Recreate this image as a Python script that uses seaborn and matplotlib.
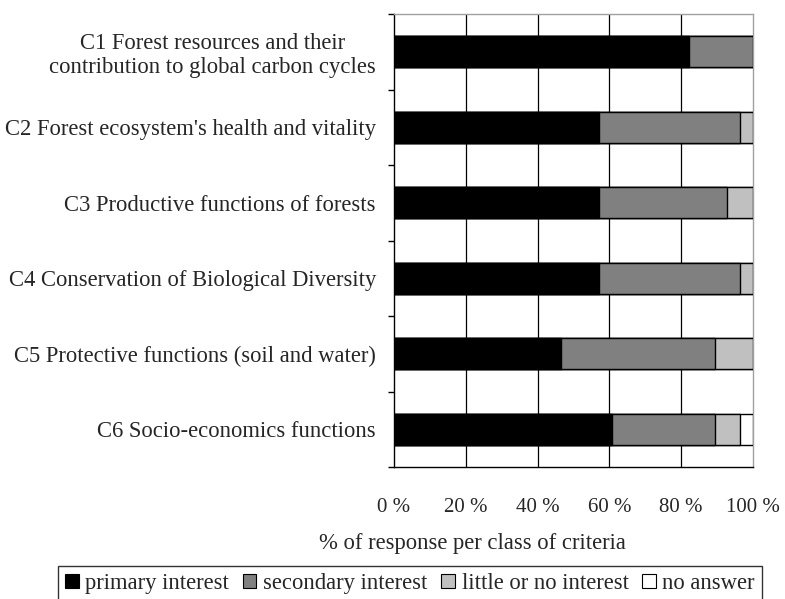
"""
Stacked horizontal bar chart - interest per class of criteria
Saves out.png
"""
import matplotlib
matplotlib.use("Agg")
import matplotlib.pyplot as plt
import pandas as pd
import seaborn as sns
from matplotlib.patches import Patch
from matplotlib.ticker import FixedLocator

# Data (percent of responses)
criteria = [
    "C1 Forest resources and their\ncontribution to global carbon cycles",
    "C2 Forest ecosystem's health and vitality",
    "C3 Productive functions of forests",
    "C4 Conservation of Biological Diversity",
    "C5 Protective functions (soil and water)",
    "C6 Socio-economics functions",
]
primary = [82.1, 57.1, 57.1, 57.1, 46.4, 60.7]
secondary = [17.9, 39.3, 35.7, 39.3, 42.9, 28.6]
little = [0.0, 3.6, 7.2, 3.6, 10.7, 7.1]
no_answer = [0.0, 0.0, 0.0, 0.0, 0.0, 3.6]

series_names = ["primary interest", "secondary interest", "little or no interest", "no answer"]
series_colors = ["#000000", "#808080", "#c0c0c0", "#ffffff"]
x_ticks = [0, 20, 40, 60, 80, 100]

sns.set_style("white")
plt.rcParams["font.family"] = ["Liberation Serif", "DejaVu Serif"]
plt.rcParams["font.size"] = 16.3

df = pd.DataFrame({
    "criteria": criteria,
    "primary": primary,
    "secondary": secondary,
    "little": little,
    "no_answer": no_answer,
})
# cumulative sums, drawn from the longest to the shortest
df["c1"] = df["primary"]
df["c2"] = df["c1"] + df["secondary"]
df["c3"] = df["c2"] + df["little"]
df["c4"] = df["c3"] + df["no_answer"]

fig = plt.figure(figsize=(7.85, 5.99), dpi=100)
ax = fig.add_axes([394 / 785, 1 - 467 / 599, 359 / 785, 453 / 599])

for col, color in zip(["c4", "c3", "c2", "c1"], series_colors[::-1]):
    sns.barplot(data=df, x=col, y="criteria", orient="h", color=color,
                edgecolor="black", linewidth=1, width=0.41, saturation=1,
                ax=ax, zorder=3)

ax.set_xlim(0, 100)
ax.set_ylim(5.5, -0.5)

# vertical grid lines
for v in x_ticks[1:-1]:
    ax.axvline(v, color="black", lw=0.9, zorder=1)

ax.set_xticks(x_ticks)
ax.set_xticklabels([f"{v} %" for v in x_ticks], fontsize=15)
ax.tick_params(axis="x", direction="out", length=5, width=1, color="black", pad=17)

ax.set_yticks(range(len(criteria)))
ax.set_yticklabels(criteria, multialignment="center", linespacing=1.15)
ax.tick_params(axis="y", which="major", length=0, pad=13)
ax.yaxis.set_minor_locator(FixedLocator([i - 0.5 for i in range(len(criteria) + 1)]))
ax.tick_params(axis="y", which="minor", direction="out", length=4, width=1, color="black", left=True)

ax.set_ylabel("")
ax.set_xlabel("% of response per class of criteria", va="center")
ax.xaxis.set_label_coords((472 - 394) / 359, (467 - 543) / 453)

for side in ["left", "bottom"]:
    ax.spines[side].set_color("black")
    ax.spines[side].set_linewidth(1)
for side in ["top", "right"]:
    ax.spines[side].set_visible(True)
    ax.spines[side].set_color("#a0a0a0")
    ax.spines[side].set_linewidth(1)

handles = [Patch(facecolor=c, edgecolor="black", linewidth=0.8) for c in series_colors]
leg = fig.legend(handles, series_names, loc="upper center", ncol=4,
                 bbox_to_anchor=(410 / 785, 1 - 566 / 599),
                 frameon=True, fancybox=False, edgecolor="black",
                 handlelength=0.6, handleheight=0.6, handletextpad=0.3,
                 columnspacing=0.6, borderpad=0.3, borderaxespad=0)
leg.get_frame().set_linewidth(1)

fig.savefig("out.png", dpi=100)
plt.close(fig)
